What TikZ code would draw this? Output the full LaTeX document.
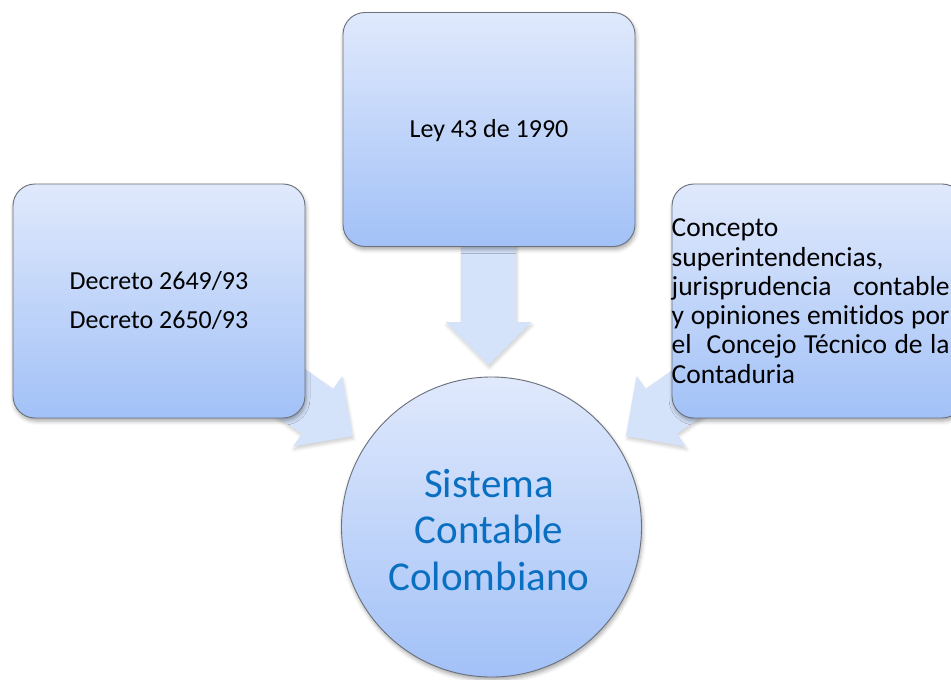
\documentclass[tikz,border=0pt]{standalone}
\usepackage{fontspec}
\setmainfont{Carlito}[Ligatures={NoCommon}]
\usetikzlibrary{shadows.blur}
\definecolor{boxtop}{HTML}{E0E9FC}
\definecolor{boxbot}{HTML}{A2C1F7}
\definecolor{arrowfill}{HTML}{D4E2FA}
\definecolor{edgegray}{HTML}{6A707C}
\definecolor{circtext}{HTML}{0B6FC1}
\newcommand\blockarr[3]{%
  \begin{scope}[shift={(#1)}, rotate=#2]
    \path[arrowbody] (0,0) -- (-43,43) -- (-43,27.5) -- (-#3,27.5) -- (-#3,-27.5)
      -- (-43,-27.5) -- (-43,-43) -- cycle;
  \end{scope}}
\begin{document}
\begin{tikzpicture}[x=1pt,y=-1pt,
  panel/.style={draw=edgegray, line width=0.9pt, rounded corners=22pt,
    top color=boxtop, bottom color=boxbot, inner sep=0pt,
    minimum width=292pt, minimum height=234pt,
    blur shadow={shadow xshift=1pt, shadow yshift=-3pt, shadow blur radius=4pt, shadow opacity=35}},
  hub/.style={circle, draw=edgegray, line width=0.9pt, inner sep=0pt,
    top color=boxtop, bottom color=boxbot, minimum size=300pt,
    blur shadow={shadow xshift=1pt, shadow yshift=-3pt, shadow blur radius=4pt, shadow opacity=35}},
  arrowbody/.style={fill=arrowfill,
    blur shadow={shadow xshift=1pt, shadow yshift=-3pt, shadow blur radius=3pt, shadow opacity=18}},
  txt/.style={inner sep=0pt, anchor=base, font=\fontsize{26}{30}\selectfont},
  rtxt/.style={inner sep=0pt, anchor=base west, font=\fontsize{27.5}{30}\selectfont},
  ctxt/.style={inner sep=0pt, anchor=base, text=circtext, font=\fontsize{41}{46}\selectfont}]
\useasboundingbox (0,0) rectangle (951,680);
\clip (0,0) rectangle (951,680);
% tips of the block arrows
\coordinate (tipT) at (488.5,365);
\coordinate (tipL) at (352.7,436);
\coordinate (tipR) at (626,436);
\blockarr{tipT}{-90}{140}
\blockarr{tipL}{-35}{110}
\blockarr{tipR}{-145}{110}
% boxes
\node[panel] (top) at (489,129.5) {};
\node[panel] (left) at (159,301) {};
\node[panel] (right) at (818,301) {};
\node[hub] (sys) at (491.5,527) {};
% texts
\node[txt] (t1) at (489,137) {Ley 43 de 1990};
\node[txt] (l1) at (159,289) {Decreto 2649/93};
\node[txt] (l2) at (159,328) {Decreto 2650/93};
\node[rtxt] (r1) at (671.5,236.7) {Concepto};
\node[rtxt] (r2) at (671.5,266) {superintendencias,};
\node[rtxt] (r3) at (671.5,295.3) {\makebox[278pt][s]{jurisprudencia contable}};
\node[rtxt] (r4) at (671.5,324.6) {\makebox[278pt][s]{y opiniones emitidos por}};
\node[rtxt] (r5) at (671.5,353.9) {\makebox[278pt][s]{el\ \ Concejo Técnico de la}};
\node[rtxt] (r6) at (671.5,383.2) {Contaduria};
\node[ctxt] (c1) at (489,497) {Sistema};
\node[ctxt] (c2) at (489,543.5) {Contable};
\node[ctxt] (c3) at (489,590) {Colombiano};
\end{tikzpicture}
\end{document}
